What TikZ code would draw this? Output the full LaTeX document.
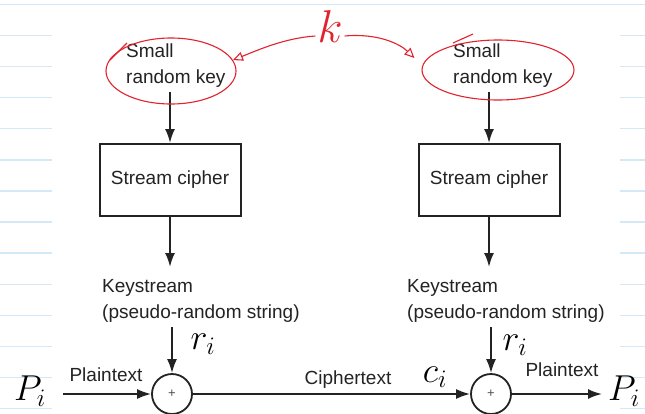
\RequirePackage{fix-cm}
\documentclass[tikz,border=0pt]{standalone}
\usepackage{fontspec}
\setmainfont{Liberation Sans}
\usetikzlibrary{arrows.meta,shapes.geometric}
\definecolor{rulecol}{RGB}{212,233,248}
\definecolor{ink}{RGB}{35,35,35}
\definecolor{pen}{RGB}{225,35,45}
\begin{document}
\begin{tikzpicture}[x=1pt,y=-1pt,
  lbl/.style={font=\fontsize{19}{26}\selectfont, text=ink, inner sep=0pt, align=left},
  cipherbox/.style={draw=ink, line width=2pt, minimum width=141pt, minimum height=72pt,
    inner sep=0pt, font=\fontsize{19}{26}\selectfont, text=ink},
  xorsym/.style={circle, draw=ink, line width=1.8pt, minimum size=40pt, inner sep=0pt,
    font=\fontsize{13}{13}\selectfont, text=ink!80},
  flow/.style={draw=ink, line width=1.9pt, -{Latex[length=14pt,width=10pt]}},
  hand/.style={text=black, inner sep=0pt, font=\fontsize{36}{36}\selectfont},
  redline/.style={draw=pen, line width=1.1pt},
  redtip/.style={redline, -{Triangle[open,length=10pt,width=9pt]}},
  ruling/.style={draw=rulecol, line width=1.4pt}
]
\fill[white] (0,0) rectangle (645,413);
\useasboundingbox (0,0) rectangle (645,413);
% notebook ruling
\draw[ruling] (0,4.3) -- (645,4.3);
\foreach \k in {1,...,13}{
  \draw[ruling] (0,{4.3+31.1*\k}) -- (52,{4.3+31.1*\k});
  \draw[ruling] (620,{4.3+31.1*\k}) -- (645,{4.3+31.1*\k});
}
% keys
\node[lbl, anchor=north west] (key1) at (126,44) {Small\\random key};
\node[lbl, anchor=north west] (key2) at (453,44) {Small\\random key};
% stream ciphers
\node[cipherbox] (sc1) at (170,180) {Stream cipher};
\node[cipherbox] (sc2) at (489,180) {Stream cipher};
% keystreams
\node[lbl, anchor=north west] (ks1) at (102,279) {Keystream\\(pseudo-random string)};
\node[lbl, anchor=north west] (ks2) at (407,279) {Keystream\\(pseudo-random string)};
% xor
\node[xorsym] (x1) at (172,394) {+};
\node[xorsym] (x2) at (491,394) {+};
\coordinate (pin) at (63,394);
\coordinate (pout) at (602,394);
% vertical arrows
\draw[flow] ([yshift=-4pt]sc1.north |- key1.south) -- (sc1.north);
\draw[flow] ([yshift=-4pt]sc2.north |- key2.south) -- (sc2.north);
\draw[flow, shorten >=12pt] (sc1.south) -- (sc1.south |- ks1.north);
\draw[flow, shorten >=12pt] (sc2.south) -- (sc2.south |- ks2.north);
\draw[flow] ([yshift=-5pt]x1.north |- ks1.south) -- (x1.north);
\draw[flow] ([yshift=-5pt]x2.north |- ks2.south) -- (x2.north);
% horizontal flow
\draw[flow] (pin) -- (x1.west);
\draw[flow] (x1.east) -- (x2.west);
\draw[flow] (x2.east) -- (pout);
\node[lbl, anchor=base] (pt1) at (106,381) {Plaintext};
\node[lbl, anchor=base] (ct) at (348,384) {Ciphertext};
\node[lbl, anchor=base] (pt2) at (562,376) {Plaintext};
% handwritten notes
\node[hand] (pL) at (30,391) {$P_i$};
\node[hand] (pR) at (624,391) {$P_i$};
\node[hand] (r1) at (203,344) {$r_i$};
\node[hand] (r2) at (515,345) {$r_i$};
\node[hand] (c2) at (435,377) {$c_i$};
% red annotations
\node[draw=pen, line width=1.1pt, ellipse, minimum width=130pt, minimum height=66pt] (e1) at (171,71) {};
\node[draw=pen, line width=1.1pt, ellipse, minimum width=152pt, minimum height=60pt] (e2) at (498,70) {};
\draw[redline] (110,60) -- (127,43);
\draw[redline] (453,43) -- (473,34);
\node[text=pen, inner sep=2pt, font=\fontsize{46}{46}\selectfont] (kk) at (330,27) {$k$};
\draw[redtip] ([yshift=-9pt]kk.west) .. controls (285,38) and (258,50) .. (e1.10);
\draw[redtip] ([yshift=-9pt]kk.east) .. controls (378,33) and (400,44) .. ([shift={(-7pt,12pt)}]e2.west);
\end{tikzpicture}
\end{document}
